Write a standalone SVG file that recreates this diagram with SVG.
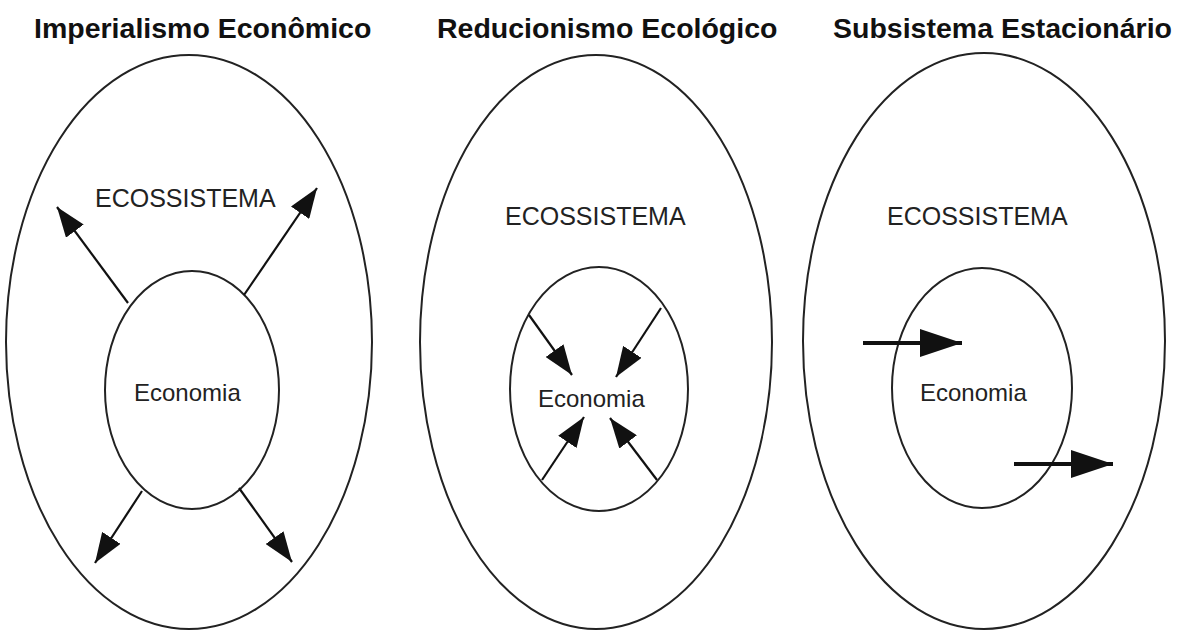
<svg xmlns="http://www.w3.org/2000/svg" width="1181" height="631" viewBox="0 0 1181 631">
<defs>
<style>
.title{font-family:"Liberation Sans",Arial,sans-serif;font-weight:bold;font-size:28.5px;fill:#111}
.eco{font-family:"Liberation Sans",Arial,sans-serif;font-size:25px;fill:#222}
.econ{font-family:"Liberation Sans",Arial,sans-serif;font-size:24px;fill:#222}
.shape{fill:none;stroke:#222;stroke-width:2}
.arr{fill:none;stroke:#111;stroke-width:2.2;marker-end:url(#head)}
.arrb{fill:none;stroke:#111;stroke-width:4;marker-end:url(#headb)}
</style>
<marker id="head" markerUnits="userSpaceOnUse" viewBox="0 0 30 22" refX="30" refY="11" markerWidth="30" markerHeight="22" orient="auto">
<path d="M0,0 L30,11 L0,22 z" fill="#111"/>
</marker>
<marker id="headb" markerUnits="userSpaceOnUse" viewBox="0 0 42 28" refX="42" refY="14" markerWidth="42" markerHeight="28" orient="auto">
<path d="M0,0 L42,14 L0,28 z" fill="#111"/>
</marker>
</defs>
<rect width="1181" height="631" fill="#fff"/>

<g id="panel1">
<text class="title" x="34" y="38">Imperialismo Econômico</text>
<ellipse class="shape" cx="189" cy="342" rx="183" ry="287"/>
<text class="eco" x="95" y="207">ECOSSISTEMA</text>
</g>
<g id="economia1">
<ellipse class="shape" cx="192" cy="390" rx="87" ry="119"/>
<text class="econ" x="134" y="401">Economia</text>
</g>

<g id="panel2">
<text class="title" x="437" y="38">Reducionismo Ecológico</text>
<ellipse class="shape" cx="596" cy="342" rx="176" ry="287"/>
<text class="eco" x="505" y="225">ECOSSISTEMA</text>
</g>
<g id="economia2">
<ellipse class="shape" cx="599" cy="389" rx="89" ry="122"/>
<text class="econ" x="538" y="407">Economia</text>
</g>

<g id="panel3">
<text class="title" x="833" y="38">Subsistema Estacionário</text>
<ellipse class="shape" cx="984" cy="341" rx="181" ry="288"/>
<text class="eco" x="887" y="225">ECOSSISTEMA</text>
</g>
<g id="economia3">
<ellipse class="shape" cx="982" cy="388" rx="90" ry="120"/>
<text class="econ" x="920" y="401">Economia</text>
</g>

<g id="connectors">
<line class="arr" x1="128" y1="303" x2="57" y2="207"/>
<line class="arr" x1="244" y1="295" x2="317" y2="188"/>
<line class="arr" x1="142" y1="491" x2="95" y2="563"/>
<line class="arr" x1="239" y1="488" x2="292" y2="562"/>

<line class="arr" x1="529" y1="315" x2="572" y2="375"/>
<line class="arr" x1="661" y1="308" x2="616" y2="377"/>
<line class="arr" x1="542" y1="480" x2="584" y2="417"/>
<line class="arr" x1="657" y1="480" x2="610" y2="418"/>

<line class="arrb" x1="863" y1="343" x2="962" y2="343"/>
<line class="arrb" x1="1014" y1="464" x2="1113" y2="464"/>
</g>
</svg>
